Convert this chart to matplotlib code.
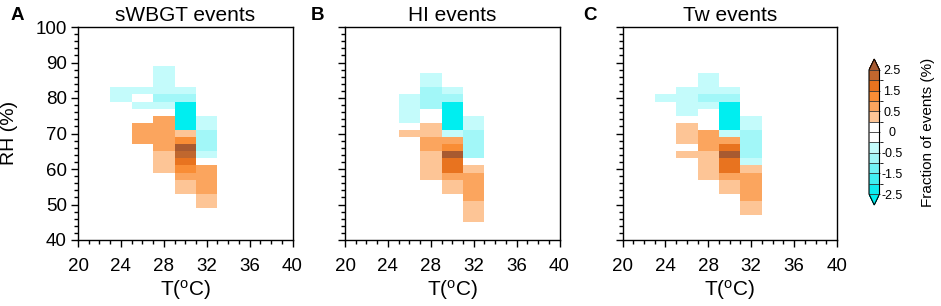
"""
Fraction-of-events difference maps in T-RH space (three event definitions)
"""
import numpy as np
import matplotlib
matplotlib.use('Agg')
import matplotlib.pyplot as plt
from matplotlib.colors import ListedColormap, BoundaryNorm
from matplotlib.cm import ScalarMappable
from matplotlib.ticker import MultipleLocator

plt.rcParams['font.family'] = ['Liberation Sans', 'DejaVu Sans']
plt.rcParams['mathtext.default'] = 'regular'

nan = np.nan

# bin centres
t_centers = [24, 26, 28, 30, 32]
rh_centers = [88, 86, 84, 82, 80, 78, 76, 74, 72, 70, 68,
              66, 64, 62, 60, 58, 56, 54, 52, 50, 48, 46]

# fraction of events (%), rows follow rh_centers, columns follow t_centers
swbgt_frac = [
    [nan, nan, -0.4, nan, nan],
    [nan, nan, -0.4, nan, nan],
    [nan, nan, -0.4, nan, nan],
    [-0.4, -0.4, -0.4, -0.4, nan],
    [-0.4, nan, -0.8, -0.8, nan],
    [nan, -0.4, -0.4, -2.8, nan],
    [nan, nan, nan, -2.8, nan],
    [nan, nan, 0.8, -2.8, -0.4],
    [nan, 0.8, 0.8, -2.8, -0.4],
    [nan, 0.8, 0.8, 0.4, -0.8],
    [nan, 0.8, 0.8, 1.2, -0.8],
    [nan, nan, 0.8, 2.8, -0.8],
    [nan, nan, 0.4, 2.2, -0.4],
    [nan, nan, 0.4, 1.8, nan],
    [nan, nan, 0.4, 1.2, 0.8],
    [nan, nan, nan, 0.8, 0.8],
    [nan, nan, nan, 0.4, 0.8],
    [nan, nan, nan, 0.4, 0.8],
    [nan, nan, nan, nan, 0.4],
    [nan, nan, nan, nan, 0.4],
    [nan, nan, nan, nan, nan],
    [nan, nan, nan, nan, nan],
]

hi_frac = [
    [nan, nan, nan, nan, nan],
    [nan, nan, -0.4, nan, nan],
    [nan, nan, -0.4, nan, nan],
    [nan, nan, -0.8, -0.4, nan],
    [nan, -0.4, -0.8, -0.8, nan],
    [nan, -0.4, -0.8, -2.8, nan],
    [nan, -0.4, nan, -2.8, nan],
    [nan, -0.4, nan, -2.8, -0.4],
    [nan, nan, 0.4, -2.8, -0.4],
    [nan, 0.4, 0.4, -0.4, -0.8],
    [nan, nan, 0.8, 0.8, -0.8],
    [nan, nan, 0.8, 1.2, -0.8],
    [nan, nan, 0.4, 2.8, -0.8],
    [nan, nan, 0.4, 1.8, nan],
    [nan, nan, 0.4, 1.8, 0.4],
    [nan, nan, 0.4, 0.8, 0.8],
    [nan, nan, nan, 0.4, 0.8],
    [nan, nan, nan, 0.4, 0.8],
    [nan, nan, nan, nan, 0.8],
    [nan, nan, nan, nan, 0.4],
    [nan, nan, nan, nan, 0.4],
    [nan, nan, nan, nan, 0.4],
]

tw_frac = [
    [nan, nan, nan, nan, nan],
    [nan, nan, -0.4, nan, nan],
    [nan, nan, -0.4, nan, nan],
    [nan, -0.4, -0.4, -0.4, nan],
    [-0.4, -0.4, -0.8, -0.8, nan],
    [nan, -0.4, -0.4, -2.8, nan],
    [nan, -0.4, nan, -2.8, nan],
    [nan, nan, nan, -2.8, -0.4],
    [nan, 0.4, nan, -2.8, -0.4],
    [nan, 0.4, 0.8, -0.4, -0.8],
    [nan, 0.4, 0.8, 0.8, -0.8],
    [nan, nan, 0.8, 1.8, -0.8],
    [nan, 0.4, 0.4, 2.8, -0.8],
    [nan, nan, 0.4, 1.8, -0.4],
    [nan, nan, 0.4, 1.8, 0.4],
    [nan, nan, 0.4, 0.8, 0.8],
    [nan, nan, nan, 0.4, 0.8],
    [nan, nan, nan, 0.4, 0.8],
    [nan, nan, nan, nan, 0.8],
    [nan, nan, nan, nan, 0.4],
    [nan, nan, nan, nan, 0.4],
    [nan, nan, nan, nan, nan],
]

panel_titles = ['sWBGT events', 'HI events', 'Tw events']
panel_letters = ['A', 'B', 'C']

levels = [-2.5, -2, -1.5, -1, -0.5, -0.25, 0, 0.25, 0.5, 1, 1.5, 2, 2.5]
cbar_ticks = [-2.5, -1.5, -0.5, 0, 0.5, 1.5, 2.5]
cbar_ticklabels = ['-2.5', '-1.5', '-0.5', '0', '0.5', '1.5', '2.5']

cmap = ListedColormap(['#10eaf0', '#40eef2', '#70f2f5', '#a2f7f8', '#c4fbfb',
                       'white', 'white',
                       '#fdc596', '#fba55e', '#f98d35', '#e8731f', '#c0672e'])
cmap.set_under('#00eef0')
cmap.set_over('#a85a30')
norm = BoundaryNorm(levels, cmap.N)

t_edges = np.array([t - 1 for t in t_centers] + [t_centers[-1] + 1])
rh_edges = np.array([r + 1 for r in rh_centers] + [rh_centers[-1] - 1])

fig = plt.figure(figsize=(9.41, 3.06), dpi=100)
lefts = [78 / 941, 345 / 941, 622.5 / 941]
for i, data in enumerate([swbgt_frac, hi_frac, tw_frac]):
    ax = fig.add_axes([lefts[i], 66 / 306, 214.5 / 941, 213 / 306])
    vals = np.ma.masked_invalid(np.array(data))
    ax.pcolormesh(t_edges, rh_edges, vals, cmap=cmap, norm=norm,
                  antialiased=False, linewidth=0)
    ax.set_xlim(20, 40)
    ax.set_ylim(40, 100)
    ax.xaxis.set_major_locator(MultipleLocator(4))
    ax.xaxis.set_minor_locator(MultipleLocator(1))
    ax.yaxis.set_major_locator(MultipleLocator(10))
    ax.yaxis.set_minor_locator(MultipleLocator(2))
    ax.tick_params(which='both', direction='out', top=False, right=False, width=1.0)
    ax.tick_params(which='major', length=5)
    ax.tick_params(which='minor', length=3)
    ax.tick_params(axis='x', which='major', labelsize=13.5, pad=8)
    ax.tick_params(axis='y', which='major', labelsize=13.5, pad=3)
    for sp in ax.spines.values():
        sp.set_linewidth(1.0)
    if i > 0:
        ax.set_yticklabels([])
    ax.set_title(panel_titles[i], fontsize=15, pad=4)
    ax.set_xlabel(r'T($^o$C)', fontsize=15, labelpad=2)

fig.text(10 / 941, 1 - 133 / 306, 'RH (%)', rotation=90, fontsize=14,
         ha='center', va='center')
for x, letter in zip([17 / 941, 317 / 941, 590 / 941], panel_letters):
    fig.text(x, 1 - 16 / 306, letter, fontsize=13.5, fontweight='bold',
             ha='center', va='center')

cax = fig.add_axes([869 / 941, 101 / 306, 10.5 / 941, 146 / 306])
sm = ScalarMappable(norm=norm, cmap=cmap)
cb = fig.colorbar(sm, cax=cax, extend='both', extendfrac=0.088,
                  spacing='uniform', drawedges=True, ticks=cbar_ticks)
cb.outline.set_linewidth(0.8)
cb.dividers.set_color('#333333')
cb.dividers.set_linewidth(0.6)
cb.ax.tick_params(length=0, pad=9, labelsize=9)
cb.ax.set_yticklabels(cbar_ticklabels)
for lbl in cb.ax.get_yticklabels():
    lbl.set_horizontalalignment('center')
fig.text(928 / 941, 1 - 132 / 306, 'Fraction of events (%)', rotation=90,
         fontsize=11, ha='center', va='center')

plt.savefig('out.png', dpi=100)
